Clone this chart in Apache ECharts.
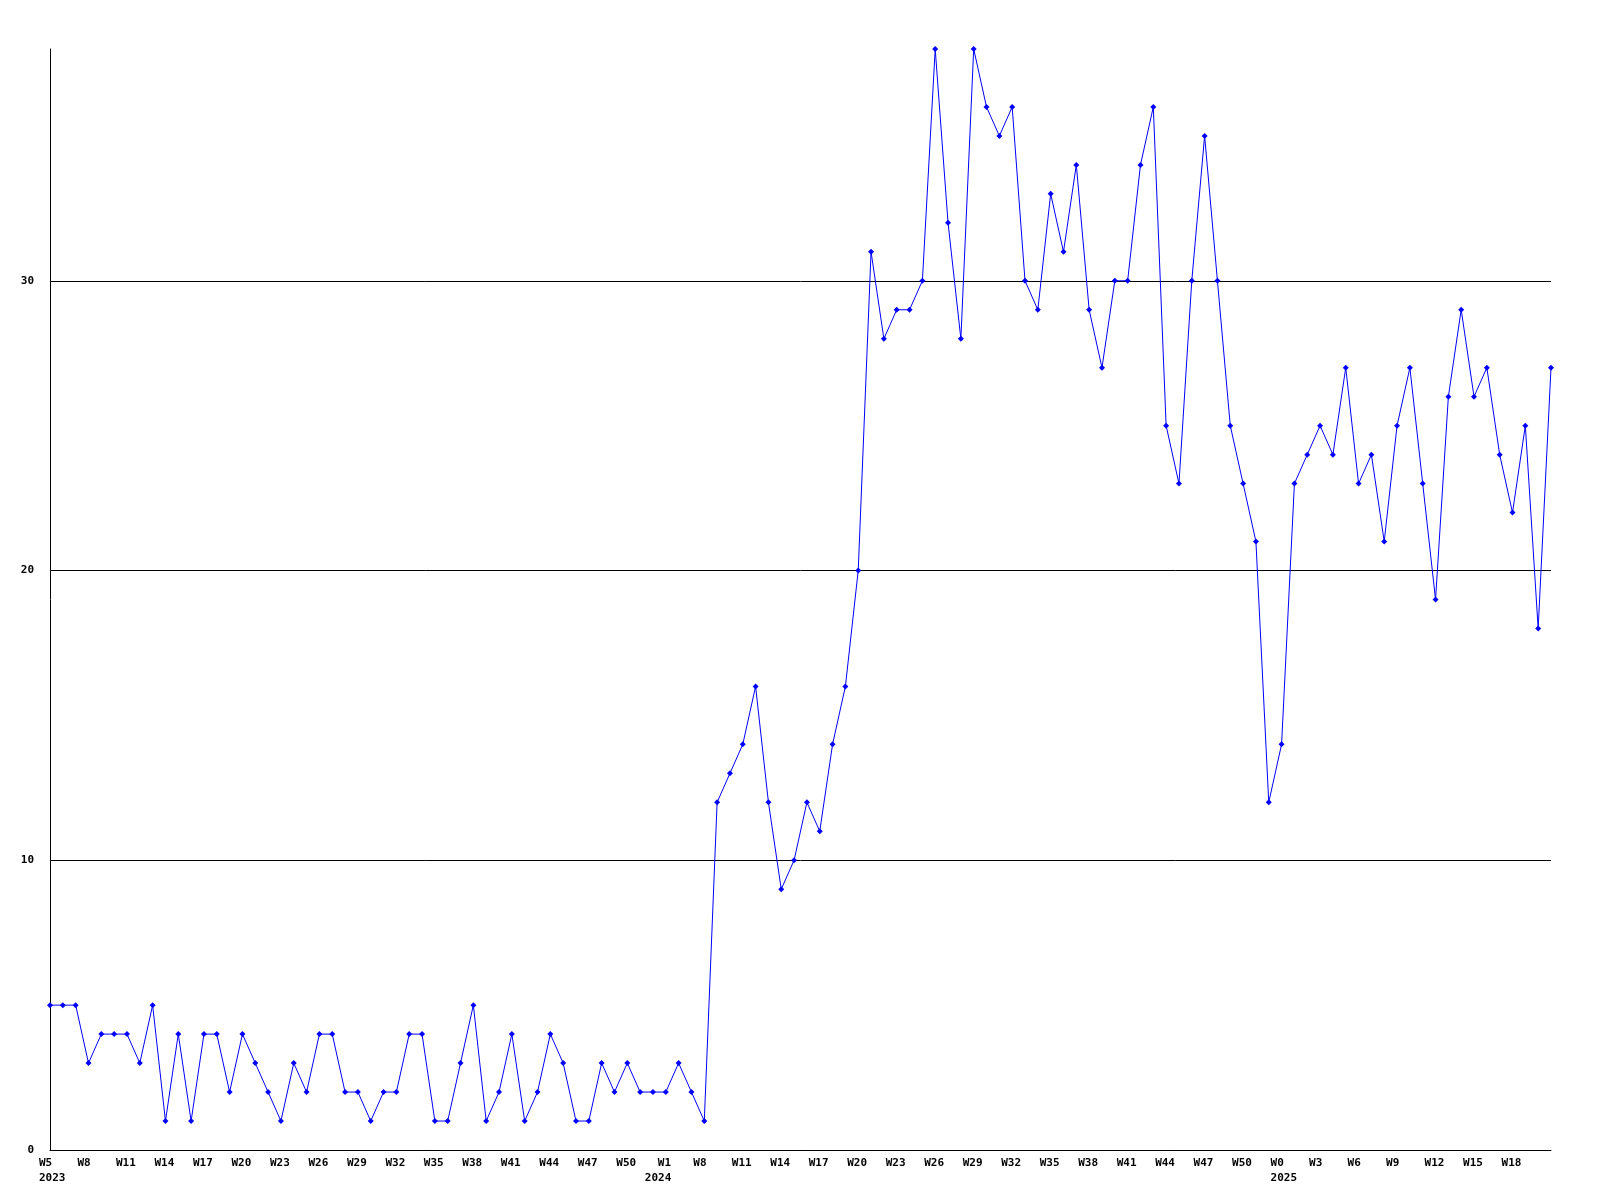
<!DOCTYPE html>
<html>
<head>
<meta charset="utf-8">
<script src="https://cdn.jsdelivr.net/npm/echarts@6/dist/echarts.min.js"></script>
<style>html,body{margin:0;padding:0;background:#fff}#c{width:1600px;height:1200px}</style>
</head>
<body>
<div id="c"></div>
<script>
const values = [
  5,5,5,3,4,4,4,3,5,1,4,1,4,4,2,4,3,2,1,3,2,4,4,2,2,1,2,2,
  4,4,1,1,3,5,1,2,4,1,2,4,3,1,1,3,2,3,2,2,2,3,2,1,
  12,13,14,16,12,9,10,12,11,14,16,20,
  31,28,29,29,30,38,32,28,38,36,35,36,30,29,33,
  31,34,29,27,30,30,34,36,25,23,30,35,30,25,23,
  21,12,14,23,24,25,
  24,27,23,24,21,25,27,23,19,26,29,26,27,24,22,25,18,27
];
const tickLabels = [
  'W5','W8','W11','W14','W17','W20','W23','W26','W29','W32','W35','W38','W41','W44','W47','W50',
  'W1','W8','W11','W14','W17','W20','W23','W26','W29','W32','W35','W38','W41','W44','W47','W50',
  'W0','W3','W6','W9','W12','W15','W18'
];
const yearTickIndex = [0, 16, 32];
const yearText = ['2023', '2024', '2025'];
const yTicks = [0, 10, 20, 30];

const categories = values.map((v, i) => String(i));

const font = {fontFamily: 'DejaVu Sans Mono', fontWeight: 'bold', fontSize: 11, color: '#000', lineHeight: 15};

const chart = echarts.init(document.getElementById('c'), null, {renderer: 'canvas'});
chart.setOption({
  backgroundColor: '#ffffff',
  animation: false,
  grid: {left: 50, right: 49, top: 49, bottom: 50, containLabel: false},
  xAxis: {
    type: 'category',
    data: categories,
    boundaryGap: false,
    axisLine: {show: true, lineStyle: {color: '#000', width: 1}},
    axisTick: {show: false},
    splitLine: {show: false},
    axisLabel: {
      interval: 2,
      margin: 6,
      align: 'center',
      formatter: function (val, idx) {
        const t = idx / 3;
        if (idx % 3 !== 0 || t >= tickLabels.length) return '';
        const yi = yearTickIndex.indexOf(t);
        if (yi === 1) {
          return '{sp1| }{w|' + tickLabels[t] + '}\n{y|' + yearText[yi] + '}{sp2| }';
        }
        let s = '{w|' + tickLabels[t] + '}';
        if (yi >= 0) s += '\n{y|' + yearText[yi] + '}';
        return s;
      },
      rich: {
        w: Object.assign({width: 22, align: 'left'}, font),
        y: Object.assign({width: 22, align: 'left'}, font),
        sp1: Object.assign({width: 13, align: 'left'}, font),
        sp2: Object.assign({width: 20, align: 'left'}, font)
      }
    }
  },
  yAxis: {
    type: 'value',
    min: 0,
    max: 38,
    interval: 10,
    axisLine: {show: true, lineStyle: {color: '#000', width: 1}},
    axisTick: {show: false},
    splitLine: {show: true, showMaxLine: false, lineStyle: {color: '#000', width: 1}},
    axisLabel: {
      margin: 16,
      fontFamily: 'DejaVu Sans Mono',
      fontWeight: 'bold',
      fontSize: 11,
      color: '#000',
      formatter: function (v) { return yTicks.indexOf(v) >= 0 ? String(v) : ''; }
    }
  },
  series: [{
    type: 'line',
    data: values,
    lineStyle: {color: '#0000ff', width: 1},
    itemStyle: {color: '#0000ff'},
    symbol: 'diamond',
    symbolSize: 6,
    showAllSymbol: true,
    clip: true
  }]
});
</script>
</body>
</html>
